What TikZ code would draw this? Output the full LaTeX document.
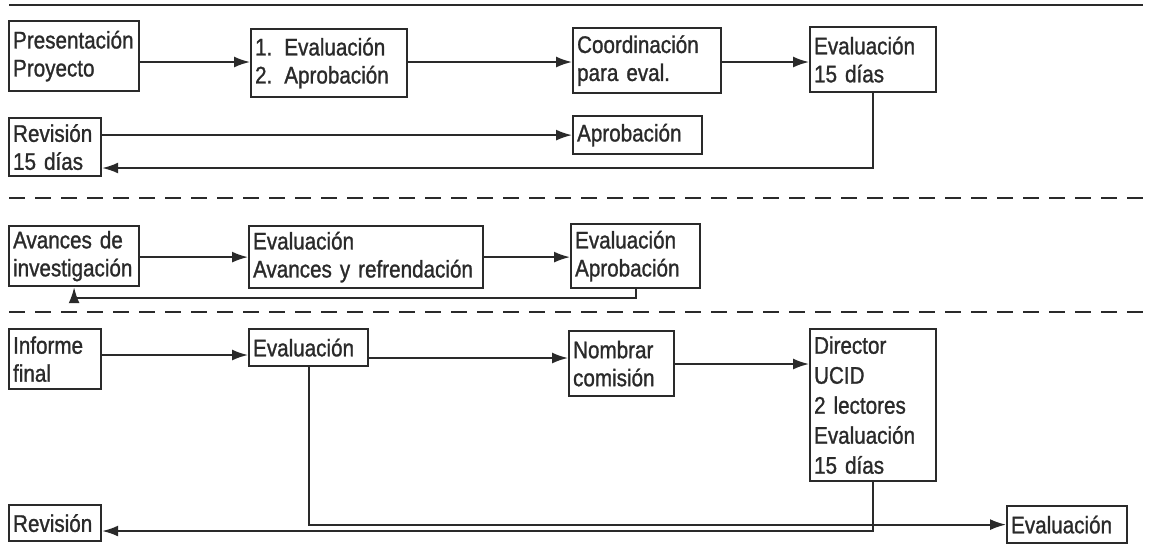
\documentclass[tikz,border=0pt]{standalone}
\usepackage{fontspec}
\setmainfont{Liberation Sans}[FakeStretch=0.86, FakeBold=1.1]
\usetikzlibrary{arrows.meta}
\definecolor{ink}{HTML}{2A2A2A}
\begin{document}
\begin{tikzpicture}[x=0.5pt,y=-0.5pt,
  box/.style={draw=ink, line width=1.1pt, inner xsep=2pt, inner ysep=1pt, anchor=north west, align=left, font=\fontsize{12}{14}\selectfont, text=ink},
  link/.style={draw=ink, line width=0.9pt},
  arr/.style={link, -{Latex[length=8pt,width=5.5pt]}},
  sepline/.style={draw=ink, line width=1pt, dash pattern=on 8pt off 5pt},
  rule/.style={draw=ink, line width=1.1pt}]
\fill[white] (0,0) rectangle (1149,543);
\useasboundingbox (0,0) rectangle (1149,543);
% helper coordinates
\coordinate (y62) at (0,62);
\coordinate (y168) at (0,168);
\coordinate (y298) at (0,298);
\coordinate (y355) at (0,355);
\coordinate (y358) at (0,358);
\coordinate (y364) at (0,364);
\coordinate (y531) at (0,531);
\coordinate (L1) at (9,5);   \coordinate (R1) at (1143,5);
\coordinate (L2) at (9,198); \coordinate (R2) at (1149,198);
\coordinate (L3) at (9,312); \coordinate (R3) at (1149,312);
% separators
\draw[rule] (L1) -- (R1);
\draw[sepline] (L2) -- (R2);
\draw[sepline] (L3) -- (R3);
% row 1
\node[box, text width=61pt, minimum height=35pt] (pres) at (8,20) {Presentación\\Proyecto};
\node[box, text width=74pt, minimum height=34pt] (eva1) at (250,28) {1.\enspace Evaluación\\2.\enspace Aprobación};
\node[box, text width=70pt, minimum height=32.5pt] (coord) at (572,27) {Coordinación\\para eval.};
\node[box, text width=59pt, minimum height=32.5pt] (ev15) at (809,26) {Evaluación\\15 días};
% row 2
\node[box, text width=42pt, minimum height=29pt] (rev15) at (8,117) {Revisión\\15 días};
\node[box, text width=60.5pt, minimum height=19pt] (aprob) at (572,115) {Aprobación};
% row 3
\node[box, text width=61pt, minimum height=30pt] (avan) at (8,225) {Avances de\\investigación};
\node[box, text width=113pt, minimum height=31pt] (evav) at (248,225) {Evaluación\\Avances y refrendación};
\node[box, text width=60.5pt, minimum height=32pt] (evap) at (570,223) {Evaluación\\Aprobación};
% row 4
\node[box, text width=42pt, minimum height=30pt] (inf) at (8,328) {Informe\\final};
\node[box, text width=55.5pt, minimum height=18.5pt] (ev4) at (248,328) {Evaluación};
\node[box, text width=48.5pt, minimum height=32.5pt] (nomb) at (568,330) {Nombrar\\comisión};
\node[box, text width=59pt, minimum height=76pt, font=\fontsize{12}{15}\selectfont] (dir) at (809,328) {Director\\UCID\\2 lectores\\Evaluación\\15 días};
\node[box, text width=42pt, minimum height=18pt] (rev2) at (8,504) {Revisión};
\node[box, text width=56pt, minimum height=18.5pt] (evf) at (1006,505) {Evaluación};
% connectors
\draw[arr] (pres.east |- y62) -- (eva1.west |- y62);
\draw[arr] (eva1.east |- y62) -- (coord.west |- y62);
\draw[arr] (coord.east |- y62) -- (ev15.west |- y62);
\draw[arr] (ev15.south) -- (ev15.south |- y168) -- (rev15.east |- y168);
\draw[arr] (rev15.east |- aprob.west) -- (aprob.west);
\draw[arr] (avan.east |- evav.west) -- (evav.west);
\draw[arr] (evav.east) -- (evav.east -| evap.west);
\draw[arr] (evap.south) -- (evap.south |- y298) -| (avan.south);
\draw[arr] (inf.east |- y355) -- (ev4.west |- y355);
\draw[arr] (ev4.east |- y358) -- (nomb.west |- y358);
\draw[arr] (nomb.east |- y364) -- (dir.west |- y364);
\draw[arr] (ev4.south) |- (evf.west);
\draw[arr] (dir.south) -- (dir.south |- y531) -- (rev2.east |- y531);
\end{tikzpicture}
\end{document}
